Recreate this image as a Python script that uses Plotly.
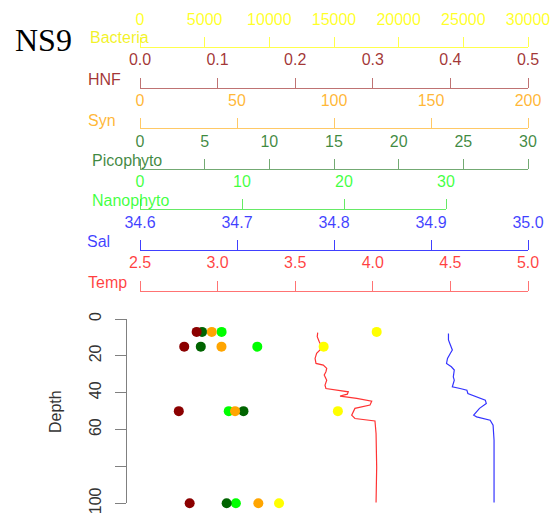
import plotly.graph_objects as go

W, H = 557, 520

# ---- bottle samples ----
depth = [7, 15, 50, 100]
bacteria = [18300, 14200, 15300, 10750]
hnf = [0.073, 0.057, 0.050, 0.064]
syn = [37, 42, 49, 61]
pico = [4.8, 4.7, 8.0, 6.7]
nano = [8.0, 11.5, 8.7, 9.4]

# ---- CTD profiles ----
temp_depth = [7.4, 9.6, 12.3, 15.1, 16.8, 18.6, 21.4, 24.1, 25.0, 26.8, 28.6, 30.4,
              33.2, 35.9, 37.7, 38.6, 39.5, 40.8, 41.8, 43.1, 44.6, 46.7, 48.5,
              52.2, 54.0, 55.3, 62.1, 80.3, 99.6]
temp = [3.645, 3.642, 3.655, 3.671, 3.660, 3.638, 3.628, 3.634, 3.681, 3.703, 3.698,
        3.687, 3.703, 3.692, 3.698, 3.767, 3.842, 3.836, 3.789, 3.896, 3.993, 3.982,
        3.885, 3.864, 3.885, 4.014, 4.021, 4.025, 4.021]
sal_depth = [7.8, 11.4, 14.1, 16.8, 18.6, 21.4, 24.1, 25.9, 27.7, 31.4, 33.2, 36.8,
             37.7, 38.6, 40.4, 41.7, 44.0, 45.8, 48.5, 52.2, 53.1, 54.9, 57.6, 65.8,
             80.3, 99.6]
sal = [34.918, 34.918, 34.920, 34.922, 34.920, 34.917, 34.916, 34.921, 34.924, 34.923,
       34.924, 34.922, 34.930, 34.937, 34.938, 34.945, 34.956, 34.957, 34.950, 34.944,
       34.947, 34.961, 34.964, 34.965, 34.965, 34.965]

# ---- tick labels ----
bact_ticks = [0, 5000, 10000, 15000, 20000, 25000, 30000]
hnf_ticks = [0.0, 0.1, 0.2, 0.3, 0.4, 0.5]
hnf_labels = ["0.0", "0.1", "0.2", "0.3", "0.4", "0.5"]
syn_ticks = [0, 50, 100, 150, 200]
pico_ticks = [0, 5, 10, 15, 20, 25, 30]
nano_ticks = [0, 10, 20, 30]
sal_ticks = [34.6, 34.7, 34.8, 34.9, 35.0]
sal_labels = ["34.6", "34.7", "34.8", "34.9", "35.0"]
temp_ticks = [2.5, 3.0, 3.5, 4.0, 4.5, 5.0]
temp_labels = ["2.5", "3.0", "3.5", "4.0", "4.5", "5.0"]
depth_ticks = [0, 20, 40, 60, 80, 100]
depth_labels = ["0", "20", "40", "60", "", "100"]

FONT = "Liberation Sans, Arial, sans-serif"


def py(ypx):
    return 1 - ypx / H


def px(xpx):
    return xpx / W


def xax(rng, tv, tt, col_txt, col_line, line_y, x_end=528):
    return dict(
        range=rng, domain=[px(140), px(x_end)], anchor="free", position=py(line_y),
        side="top", showline=True, linecolor=col_line, linewidth=1,
        ticks="outside", ticklen=10, tickwidth=1, tickcolor=col_line,
        tickvals=tv, ticktext=tt, tickfont=dict(size=16, color=col_txt, family=FONT),
        ticklabelstandoff=6, showgrid=False, zeroline=False, automargin=False,
    )


fig = go.Figure()

fig.add_trace(go.Scatter(x=temp, y=temp_depth, xaxis="x", yaxis="y", mode="lines",
                         line=dict(color="rgba(255,0,0,0.8)", width=1.2), cliponaxis=False))
fig.add_trace(go.Scatter(x=sal, y=sal_depth, xaxis="x2", yaxis="y", mode="lines",
                         line=dict(color="rgba(0,0,255,0.8)", width=1.2), cliponaxis=False))

pts = [("x3", nano, "#00FF00"), ("x4", pico, "#006400"), ("x5", syn, "#FFA500"),
       ("x6", hnf, "#8B0000"), ("x7", bacteria, "#FFFF00")]
for ax, vals, col in pts:
    fig.add_trace(go.Scatter(x=vals, y=depth, xaxis=ax, yaxis="y", mode="markers",
                             marker=dict(color=col, size=10, line=dict(width=0)),
                             cliponaxis=False))

layout = dict(
    width=W, height=H, autosize=False,
    margin=dict(l=0, r=0, t=0, b=0, pad=0, autoexpand=False),
    paper_bgcolor="white", plot_bgcolor="rgba(0,0,0,0)",
    showlegend=False,
    xaxis=xax([2.5, 5.0], temp_ticks, temp_labels, "rgba(255,0,0,0.75)", "rgba(255,0,0,0.55)", 290.7),
    xaxis2=xax([34.6, 35.0], sal_ticks, sal_labels, "rgba(0,0,255,0.75)", "rgba(0,0,255,0.75)", 250),
    xaxis3=xax([0, 30], nano_ticks, [str(v) for v in nano_ticks], "rgba(0,255,0,0.75)", "rgba(0,220,0,0.6)", 209.3, x_end=446),
    xaxis4=xax([0, 30], pico_ticks, [str(v) for v in pico_ticks], "rgba(0,100,0,0.75)", "rgba(0,100,0,0.55)", 169.3),
    xaxis5=xax([0, 200], syn_ticks, [str(v) for v in syn_ticks], "rgba(255,165,0,0.8)", "rgba(255,165,0,0.6)", 128.3),
    xaxis6=xax([0, 0.5], hnf_ticks, hnf_labels, "rgba(139,0,0,0.8)", "rgba(139,0,0,0.55)", 87.7),
    xaxis7=xax([0, 30000], bact_ticks, [str(v) for v in bact_ticks], "rgba(255,255,0,0.85)", "rgba(255,255,0,0.7)", 47),
    yaxis=dict(
        range=[100, 0], domain=[py(503.3), py(319)], anchor="free", position=px(126),
        side="left", showline=True, linecolor="#808080", linewidth=1,
        ticks="outside", ticklen=11, tickcolor="#808080", tickwidth=1,
        tickvals=depth_ticks, ticktext=depth_labels, tickangle=-90,
        tickfont=dict(size=16, color="#333333", family=FONT),
        ticklabelstandoff=8, showgrid=False, zeroline=False, automargin=False,
    ),
)
fig.update_layout(**layout)

titles = [("Bacteria", 88, 38, "rgba(240,240,0,0.85)"),
          ("HNF", 86, 79, "rgba(139,0,0,0.8)"),
          ("Syn", 86, 120, "rgba(255,165,0,0.8)"),
          ("Picophyto", 90, 160, "rgba(0,100,0,0.75)"),
          ("Nanophyto", 90, 201, "rgba(0,255,0,0.75)"),
          ("Sal", 85, 241, "rgba(0,0,255,0.75)"),
          ("Temp", 86, 282, "rgba(255,0,0,0.75)")]
for txt, x0, y0, col in titles:
    fig.add_annotation(text=txt, xref="paper", yref="paper", x=px(x0), y=py(y0),
                       xanchor="left", yanchor="middle", showarrow=False,
                       font=dict(size=16, color=col, family=FONT))

fig.add_annotation(text="NS9", xref="paper", yref="paper", x=px(43), y=py(40),
                   xanchor="center", yanchor="middle", showarrow=False,
                   font=dict(size=32, color="black", family="Liberation Serif, Times New Roman, serif"))
fig.add_annotation(text="Depth", xref="paper", yref="paper", x=px(55), y=py(412),
                   xanchor="center", yanchor="middle", showarrow=False, textangle=-90,
                   font=dict(size=16, color="#333333", family=FONT))

fig.write_html("out.html")
